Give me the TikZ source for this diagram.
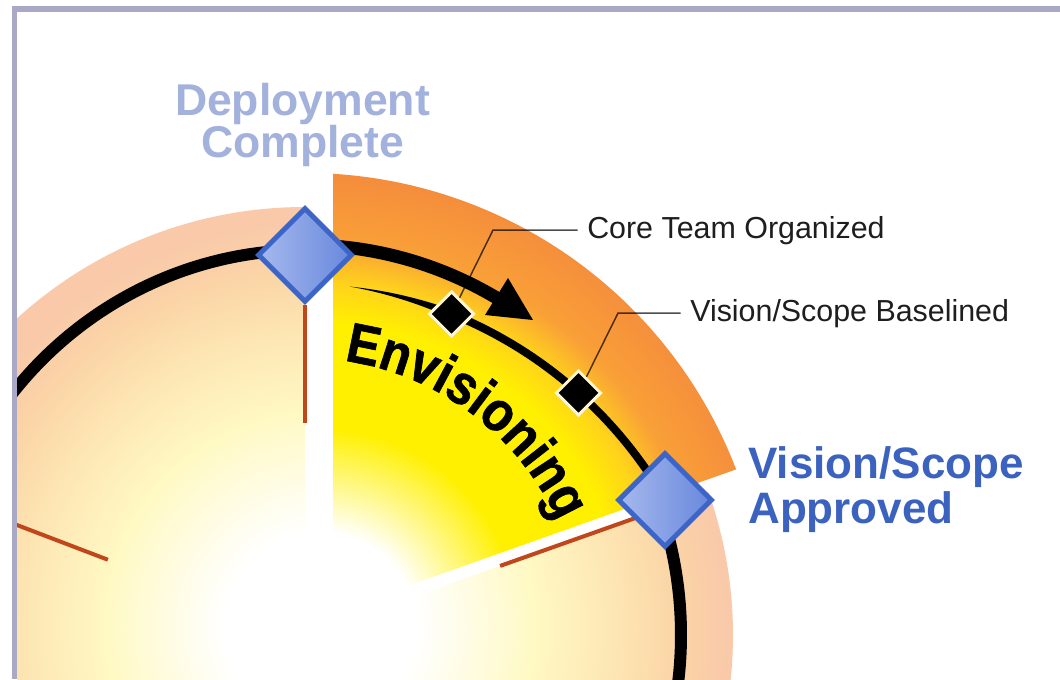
\documentclass[tikz,border=0pt]{standalone}
\usepackage{fontspec}
\setmainfont{Liberation Sans}
\newfontfamily\envfam{Liberation Sans}[FakeStretch=0.88,FakeBold=1.2]
\usetikzlibrary{shapes.geometric,decorations.text}

\definecolor{framec}{HTML}{A9A9C6}
\definecolor{peachA}{HTML}{F9C9AA}
\definecolor{peachB}{HTML}{FBD4A6}
\definecolor{creamA}{HTML}{FDE5B2}
\definecolor{paleY}{HTML}{FFF9C4}
\definecolor{envY}{HTML}{FFF000}
\definecolor{envG}{HTML}{FFD21C}
\definecolor{envO}{HTML}{F9A037}
\definecolor{envD}{HTML}{F58E3C}
\definecolor{redl}{HTML}{C0461C}
\definecolor{dblue}{HTML}{A3B1DD}
\definecolor{vblue}{HTML}{3B62BF}
\definecolor{diaE}{HTML}{3D65C8}
\definecolor{diaL}{HTML}{A6B9EE}
\definecolor{diaR}{HTML}{6888DC}
\definecolor{creamW}{HTML}{FFF6D8}
\definecolor{textgray}{HTML}{1E1E1E}

% 25bp = radius of the shaded circle (520 px)
\pgfdeclareradialshading{peachglow}{\pgfpointorigin}{color(0bp)=(white); color(4.6bp)=(white); color(10.3bp)=(paleY); color(14.4bp)=(creamA); color(17.3bp)=(peachB); color(19.7bp)=(peachA); color(50bp)=(peachA)}
\pgfdeclareradialshading{envglow}{\pgfpointorigin}{color(0bp)=(white); color(4.6bp)=(white); color(9.6bp)=(envY); color(14.6bp)=(envY); color(16.6bp)=(envG); color(18.5bp)=(envO); color(21.6bp)=(envD); color(50bp)=(envD)}

\newcommand\envfont{\envfam\fontsize{42}{44}\selectfont\bfseries}

\begin{document}
\begin{tikzpicture}[x=0.75pt,y=0.75pt,
  ring/.style={line width=9pt, draw=black},
  shaft/.style={line width=9.75pt, draw=black},
  track/.style={line width=6pt, draw=black},
  redline/.style={line width=3pt, draw=redl},
  leader/.style={line width=1.1pt, draw=black, draw opacity=0.7},
  bigdia/.style={diamond, aspect=1, minimum width=71pt, minimum height=71pt, inner sep=0pt,
                 draw=diaE, line width=3.75pt, left color=diaL, right color=diaR},
  smalldia/.style={diamond, aspect=1, minimum width=34pt, minimum height=34pt, inner sep=0pt,
                 draw=creamW, line width=2.2pt, fill=black},
  lbl/.style={font=\fontsize{22.8}{26}\selectfont, text=textgray, inner sep=0pt},
  ms/.style={font=\fontsize{33.4}{31.5}\selectfont\bfseries, inner sep=0pt}]

\useasboundingbox (0,0) rectangle (1060,-679);
\fill[white] (0,0) rectangle (1060,-679);

\coordinate (C) at (305,-635);
\coordinate (G) at (320,-628);

\begin{scope}
\clip (17,-12) rectangle (1060,-679);

% peach pie (all phases except Envisioning)
\begin{scope}
  \clip (C) -- ++(90:428) arc[start angle=90, end angle=379.5, radius=428] -- cycle;
  \shade[shading=peachglow] (G) circle (520);
\end{scope}

% Envisioning sector
\begin{scope}
  \clip (333,-612.4) -- (333,-173.8) arc[start angle=86.5, end angle=21, radius=462] -- cycle;
  \shade[shading=envglow] (G) circle (520);
\end{scope}

\begin{scope}[shift={(305,-635)}]
  % phase separators
  \draw[redline] (90:212) -- (90:330);
  \draw[redline] (19.5:207) -- (19.5:355);
  \draw[redline] (159.1:211) -- (159.1:400);
  % outer cycle
  \draw[ring] (90:376 and 385) arc[start angle=90, end angle=200, x radius=376, y radius=385];
  \draw[ring] (22:376 and 385) arc[start angle=22, end angle=-20, x radius=376, y radius=385];
  % thick arrow shaft
  \draw[shaft] (92:381 and 390) arc[start angle=92, end angle=59, x radius=381, y radius=390];
  % Envisioning label along the arc
  \path[decorate, decoration={text along path, text={|\envfont|Envisioning}, text align=center}]
    (100:277) arc[start angle=100, end angle=6, radius=277];
\end{scope}

% arrow head
\fill[black] (508,-278) -- (533,-320) -- (485,-315) -- cycle;

% milestone track
\begin{scope}[shift={(288.6,-717.2)}]
  \fill[black] plot[domain=81.9:68, samples=25, variable=\t] ({\t}:{435+4*(81.9-\t)/13.9})
     -- plot[domain=68:81.9, samples=25, variable=\t] ({\t}:{435-4*(81.9-\t)/13.9}) -- cycle;
  \draw[track] (68:435) arc[start angle=68, end angle=29, radius=435];
\end{scope}

% milestones
\node[bigdia] (dep) at (305,-255) {};
\node[bigdia] (vsa) at (665,-500) {};
\node[smalldia] (d1) at (451.6,-313.9) {};
\node[smalldia] (d2) at (578.5,-392.9) {};
\end{scope}

% labels
\node[lbl, anchor=base west] (ct) at (587,-238) {Core Team Organized};
\node[lbl, anchor=base west] (vsb) at (690,-321) {Vision/Scope Baselined};
\draw[leader] ([xshift=-7pt]ct.west) -- ++(-84.7,0) -- (d1);
\draw[leader] ([xshift=-7pt]vsb.west) -- ++(-62.7,0) -- (d2);

\node[ms, text=dblue, align=center, anchor=north] (dc) at (302.5,-83) {Deployment\\Complete};
\node[ms, font=\fontsize{33}{33.75}\selectfont\bfseries, text=vblue, align=left, anchor=north west] (va) at (748,-446) {Vision/Scope\\Approved};

% frame
\draw[framec, line width=4.5pt] (12,-9) -- (1060,-9);
\draw[framec, line width=3.5pt] (14.3,-6.5) -- (14.3,-679);
\end{tikzpicture}
\end{document}
